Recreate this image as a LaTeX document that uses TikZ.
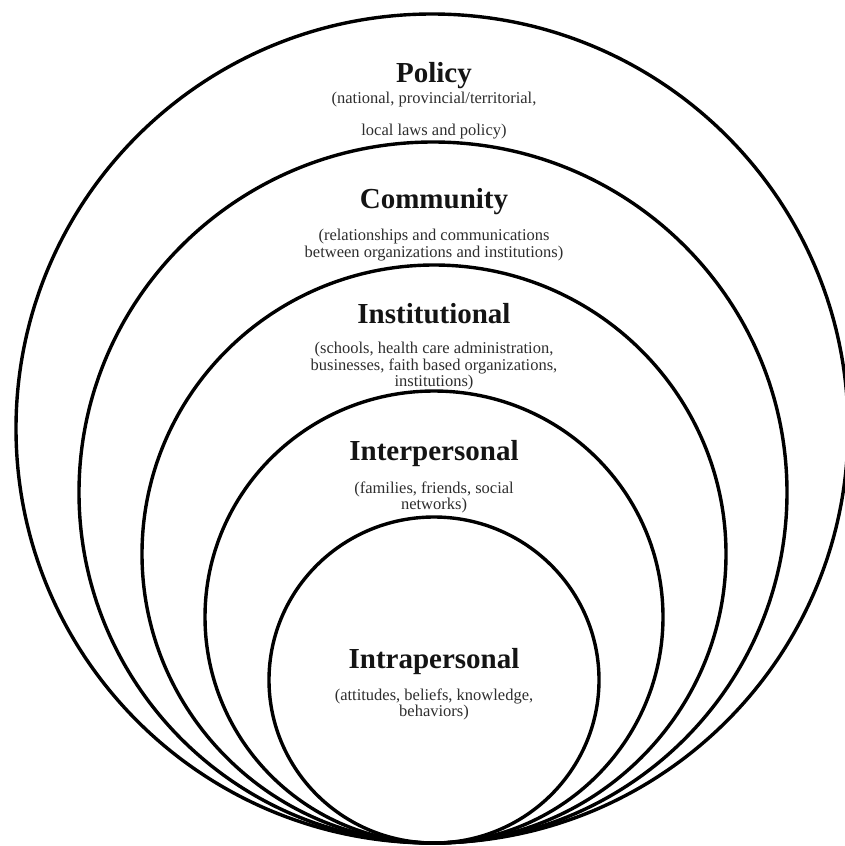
\documentclass[tikz,border=0pt]{standalone}
\usepackage{fontspec}
\setmainfont{Liberation Serif}
\begin{document}
\begin{tikzpicture}[x=1pt,y=-1pt,
  ring/.style={draw=black,line width=3.4pt},
  ttl/.style={anchor=base,inner sep=0pt,text=black!92,font=\fontsize{29}{30}\selectfont\bfseries},
  sub/.style={anchor=base,inner sep=0pt,text=black!82,font=\fontsize{16.5}{17}\selectfont}]
\useasboundingbox[fill=white] (0,0) rectangle (845,846);
% rings (all tangent at the bottom)
\draw[ring] (432,428.5) ellipse [x radius=416,y radius=414.5];
\draw[ring] (433,492.5) ellipse [x radius=354,y radius=350.5];
\draw[ring] (434,554) ellipse [x radius=292,y radius=289];
\draw[ring] (434,617) ellipse [x radius=229,y radius=226];
\draw[ring] (434,680) ellipse [x radius=165,y radius=163];
% Policy
\node[ttl] (pol) at (434,82) {Policy};
\node[sub] (polA) at (434,103) {(national, provincial/territorial,};
\node[sub] (polB) at (434,135) {local laws and policy)};
% Community
\node[ttl] (com) at (434,208) {Community};
\node[sub] (comA) at (434,240) {(relationships and communications};
\node[sub] (comB) at (434,257) {between organizations and institutions)};
% Institutional
\node[ttl] (ins) at (434,323) {Institutional};
\node[sub] (insA) at (434,353) {(schools, health care administration,};
\node[sub] (insB) at (434,370) {businesses, faith based organizations,};
\node[sub] (insC) at (434,386) {institutions)};
% Interpersonal
\node[ttl] (inter) at (434,460) {Interpersonal};
\node[sub] (interA) at (434,493) {(families, friends, social};
\node[sub] (interB) at (434,509) {networks)};
% Intrapersonal
\node[ttl] (intra) at (434,668) {Intrapersonal};
\node[sub] (intraA) at (434,700) {(attitudes, beliefs, knowledge,};
\node[sub] (intraB) at (434,716) {behaviors)};
\end{tikzpicture}
\end{document}
